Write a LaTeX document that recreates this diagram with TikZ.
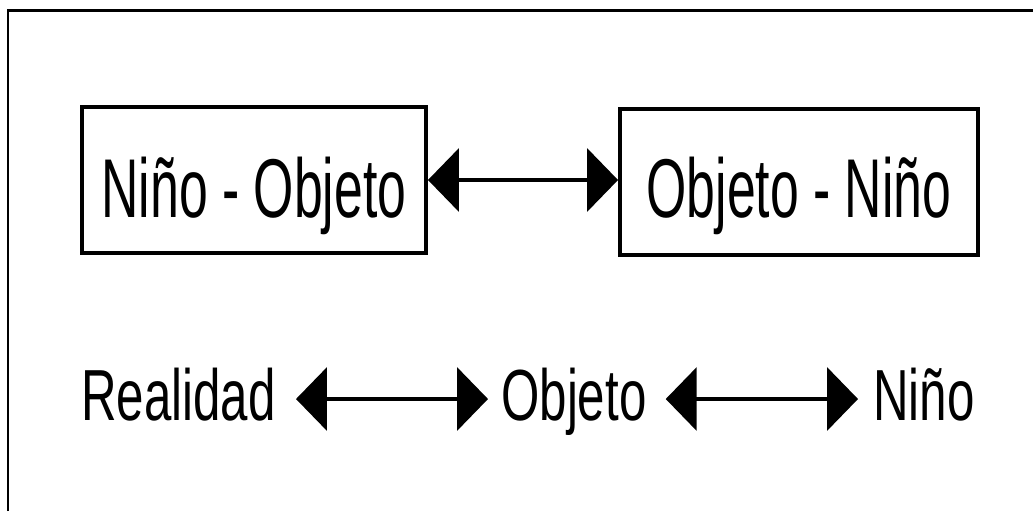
\documentclass[tikz,border=0pt]{standalone}
\usepackage{fontspec}
\usetikzlibrary{arrows.meta}
\newfontfamily\boxfont[FakeStretch=0.62]{Liberation Sans}
\newfontfamily\rowfont[FakeStretch=0.68]{Liberation Sans}

\begin{document}
\begin{tikzpicture}[x=0.02cm,y=-0.02cm,
    caja/.style={draw,line width=0.08cm,inner sep=0pt,minimum height=2.92cm,
      text depth=0pt,font=\boxfont\fontsize{47.5}{50}\selectfont},
    palabra/.style={inner sep=0pt,anchor=base west,text height=1.2cm,
      text depth=0.36cm,font=\rowfont\fontsize{41.2}{44}\selectfont},
    flecha/.style={line width=0.08cm,
      {Triangle[length=0.62cm,width=1.26cm]}-{Triangle[length=0.62cm,width=1.26cm]}}]
      \useasboundingbox (0,0) rectangle (1033,511);

      \draw[line width=0.06cm] (8,511) -- (8,10) -- (1033,10);

      \node[caja,minimum width=6.88cm,text height=1.52cm] (ninoobj) at (254,180) {Niño - Objeto};
      \node[caja,minimum width=7.16cm,text height=1.42cm] (objnino) at (799,182) {Objeto - Niño\hspace{0.36cm}};
      \draw[flecha] (ninoobj.east) -- (ninoobj.east -| objnino.west);

      \node[palabra] (realidad) at (81,420) {Realidad};
      \node[palabra] (objeto) at (501,420) {Objeto};
      \node[palabra] (nino) at (873,420) {Niño};

      \draw[flecha,shorten <=0.4cm,shorten >=0.26cm] (realidad) -- (objeto);
      \draw[flecha,shorten <=0.38cm,shorten >=0.3cm] (objeto) -- (nino);
    \end{tikzpicture}
\end{document}
